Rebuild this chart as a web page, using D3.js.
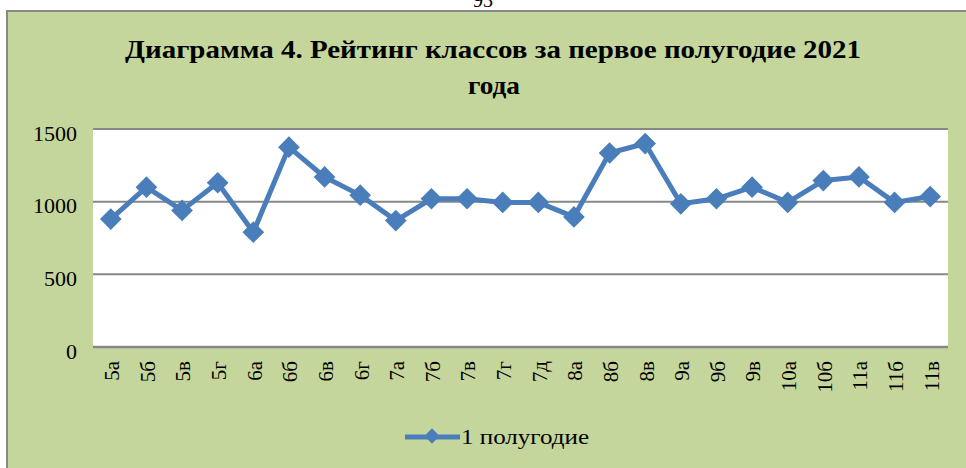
<!DOCTYPE html>
<html>
<head>
<meta charset="utf-8">
<script src="https://cdn.jsdelivr.net/npm/d3@7/dist/d3.min.js"></script>
<style>
  html, body { margin: 0; padding: 0; background: #fff; }
  svg { display: block; }
</style>
</head>
<body>
<svg id="chart" width="966" height="468"></svg>
<script>
const categories = ["5а","5б","5в","5г","6а","6б","6в","6г","7а","7б","7в","7г","7д","8а","8б","8в","9а","9б","9в","10а","10б","11а","11б","11в"];
const values = [880,1100,940,1130,790,1375,1170,1045,870,1020,1020,995,995,895,1335,1400,985,1020,1100,995,1145,1170,995,1035];
const yTicks = [0,500,1000,1500];
const seriesName = "1 полугодие";
const titleLines = ["Диаграмма  4. Рейтинг классов за первое полугодие  2021", "года"];
const pageNumber = "93";

const svg = d3.select("#chart");
const W = 966, H = 468;
const serif = "'Liberation Serif','Times New Roman',serif";
const blue = "#4A7EBB";

// page number (cut off at top, as in the source page)
svg.append("text").attr("x", 483).attr("y", 7).attr("text-anchor", "middle")
  .attr("font-family", serif).attr("font-size", 20).attr("fill", "#000").text(pageNumber);

// chart area
svg.append("rect").attr("x", 7).attr("y", 11).attr("width", W + 10).attr("height", H + 10)
  .attr("fill", "#C4D69C").attr("stroke", "#888").attr("stroke-width", 2);

const plot = {left: 93, right: 948, top: 129, bottom: 347};

svg.append("rect").attr("x", plot.left).attr("y", plot.top)
  .attr("width", plot.right - plot.left).attr("height", plot.bottom - plot.top).attr("fill", "#fff");

const x = d3.scaleBand().domain(categories).range([plot.left, plot.right]);
const y = d3.scaleLinear().domain([0, 1500]).range([plot.bottom, plot.top]);

// gridlines
svg.append("g").selectAll("line").data(yTicks).join("line")
  .attr("x1", plot.left).attr("x2", plot.right)
  .attr("y1", d => y(d)).attr("y2", d => y(d))
  .attr("stroke", "#878787").attr("stroke-width", d => d === 0 ? 2.5 : 2);

// y axis labels
const yAxis = d3.axisLeft(y).tickValues(yTicks).tickFormat(d3.format("d")).tickSize(0).tickPadding(0);
const gy = svg.append("g").attr("transform", `translate(77,4)`).call(yAxis);
gy.select(".domain").remove();
gy.selectAll("text").attr("font-family", serif).attr("font-size", 22).attr("fill", "#000");

// x axis labels
const xAxis = d3.axisBottom(x).tickSize(0).tickPadding(0);
const gx = svg.append("g").attr("transform", `translate(0,${plot.bottom})`).call(xAxis);
gx.select(".domain").remove();
gx.selectAll("text")
  .attr("font-family", serif).attr("font-size", 21).attr("fill", "#000")
  .attr("transform", "rotate(-90)")
  .attr("text-anchor", "end").attr("x", -14).attr("y", 1).attr("dy", "0.35em");

// line
const cx = d => x(d) + x.bandwidth() / 2;
const line = d3.line().x((d, i) => cx(categories[i])).y(d => y(d));
svg.append("path").datum(values).attr("d", line)
  .attr("fill", "none").attr("stroke", blue).attr("stroke-width", 5).attr("stroke-linejoin", "round");

const diamond = d3.symbol().type(d3.symbolDiamond2).size(300);
svg.append("g").selectAll("path").data(values).join("path")
  .attr("d", diamond)
  .attr("transform", (d, i) => `translate(${cx(categories[i])},${y(d)})`)
  .attr("fill", blue);

// title
const tg = svg.append("g").attr("font-family", serif).attr("font-weight", "bold").attr("fill", "#000");
tg.append("text").attr("x", 493).attr("y", 58).attr("text-anchor", "middle").attr("font-size", 26)
  .attr("textLength", 736).attr("lengthAdjust", "spacingAndGlyphs").text(titleLines[0]);
tg.append("text").attr("x", 494).attr("y", 94).attr("text-anchor", "middle").attr("font-size", 26)
  .attr("textLength", 52).attr("lengthAdjust", "spacingAndGlyphs").text(titleLines[1]);

// legend
const lg = svg.append("g");
lg.append("line").attr("x1", 405).attr("x2", 460).attr("y1", 437).attr("y2", 437)
  .attr("stroke", blue).attr("stroke-width", 5);
lg.append("path").attr("d", d3.symbol().type(d3.symbolDiamond2).size(150)())
  .attr("transform", "translate(432,436)").attr("fill", blue);
lg.append("text").attr("x", 461).attr("y", 437).attr("dy", "0.35em")
  .attr("font-family", serif).attr("font-size", 21).attr("fill", "#000")
  .attr("textLength", 128).attr("lengthAdjust", "spacingAndGlyphs").text(seriesName);
</script>
</body>
</html>
